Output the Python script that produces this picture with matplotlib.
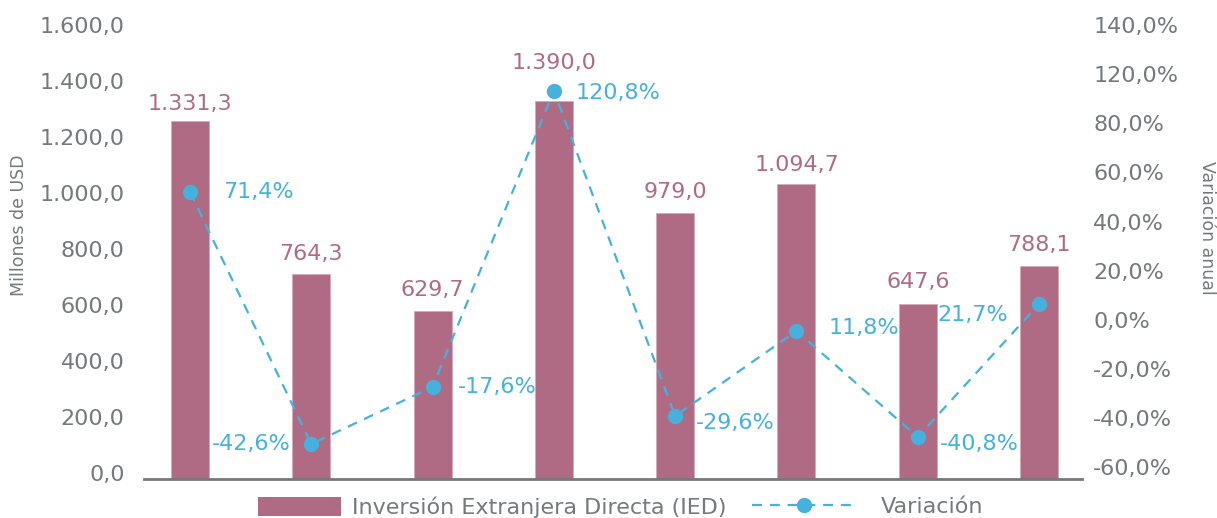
import matplotlib
matplotlib.use("Agg")
import matplotlib.pyplot as plt
import matplotlib.transforms as mtransforms
from matplotlib.patches import Patch
from matplotlib.lines import Line2D
import numpy as np

plt.rcParams['font.family'] = ['DejaVu Sans']

# Data (bar heights and point heights as drawn)
ied_drawn = [1279, 732, 600, 1350, 949, 1052, 624, 761]
ied_labels = ["1.331,3", "764,3", "629,7", "1.390,0", "979,0", "1.094,7", "647,6", "788,1"]
var_drawn = [52.0, -50.6, -27.4, 93.2, -39.2, -4.6, -47.8, 6.4]
var_labels = ["71,4%", "-42,6%", "-17,6%", "120,8%", "-29,6%", "11,8%", "-40,8%", "21,7%"]

left_ticks = [0, 200, 400, 600, 800, 1000, 1200, 1400, 1600]
left_ticklabels = ["0,0", "200,0", "400,0", "600,0", "800,0", "1.000,0", "1.200,0", "1.400,0", "1.600,0"]
right_ticks = [-60, -40, -20, 0, 20, 40, 60, 80, 100, 120]
right_ticklabels = ["-60,0%", "-40,0%", "-20,0%", "0,0%", "20,0%", "40,0%", "60,0%", "80,0%", "120,0%", "140,0%"]

# label placement
bar_label_gap = [17, 20, 21, 38, 21, 19, 22, 21]
var_offsets = [(33, 0, 'left'), (-21, 0, 'right'), (25, 0, 'left'), (22, -2, 'left'),
               (21, -7, 'left'), (32, 3, 'left'), (22, -7, 'left'), (-31, -11, 'right')]

bar_color = '#b06b84'
line_color = '#45b1dc'
gray = '#75797c'
fs = 16

W, H = 1217, 518
fig = plt.figure(figsize=(W / 100, H / 100), dpi=100)
ax = fig.add_axes([144 / W, (H - 479) / H, (1082 - 144) / W, (479 - 20) / H])

x = np.arange(len(ied_drawn))
ax.bar(x, ied_drawn, width=0.313, color=bar_color, edgecolor='#d8aabb', linewidth=0.6, zorder=2)
ax.set_xlim(-0.379, 7.354)
ax.set_ylim(0, (479 - 20) / 0.28)
ax.set_yticks(left_ticks)
ax.set_yticklabels(left_ticklabels)
ax.set_xticks([])
ax.tick_params(axis='y', length=0, pad=14, labelsize=fs, labelcolor=gray)
for s in ['top', 'right', 'left']:
    ax.spines[s].set_visible(False)
ax.spines['bottom'].set_color(gray)
ax.spines['bottom'].set_linewidth(2)
ax.spines['bottom'].set_zorder(4)

# left tick labels sit a bit above their tick
shift = mtransforms.ScaledTranslation(0, 6 / 100, fig.dpi_scale_trans)
for lab in ax.get_yticklabels():
    lab.set_transform(lab.get_transform() + shift)

for xi, h, t, g in zip(x, ied_drawn, ied_labels, bar_label_gap):
    ax.annotate(t, (xi, h), xytext=(0, g), textcoords='offset pixels',
                ha='center', va='center', fontsize=fs, color=bar_color)

ax2 = ax.twinx()
ax2.set_ylim(-60 - 12 / 49.1 * 20, -60 + 447 / 49.1 * 20)
ax2.plot(x, var_drawn, color=line_color, linewidth=1.6, linestyle=(0, (4.5, 3.5)),
         marker='o', markersize=10, zorder=3)
ax2.set_yticks(right_ticks)
ax2.set_yticklabels(right_ticklabels)
ax2.tick_params(axis='y', length=0, pad=8, labelsize=fs, labelcolor=gray)
for s in ['top', 'right', 'left', 'bottom']:
    ax2.spines[s].set_visible(False)

for xi, v, t, (dx, dy, ha) in zip(x, var_drawn, var_labels, var_offsets):
    ax2.annotate(t, (xi, v), xytext=(dx, dy), textcoords='offset pixels',
                 ha=ha, va='center', fontsize=fs, color=line_color)

fig.text(19 / W, 1 - 225 / H, "Millones de USD", rotation=90, ha='center', va='center',
         fontsize=12.5, color=gray)
fig.text(1207 / W, 1 - 228 / H, "Variación anual", rotation=270, ha='center', va='center',
         fontsize=12.5, color=gray)

# legend: two parts so each handle gets its own length
em = fs * 100 / 72
fig.legend([Patch(facecolor=bar_color, edgecolor='none')],
           ["Inversión Extranjera Directa (IED)"],
           loc='center left', bbox_to_anchor=(258 / W, 1 - 507 / H), frameon=False,
           fontsize=fs, labelcolor=gray, handlelength=83 / em, handleheight=0.95,
           handletextpad=11 / em, borderpad=0, borderaxespad=0)
fig.legend([Line2D([0], [0], color=line_color, linewidth=1.6, linestyle=(0, (4.5, 3.5)),
                   marker='o', markersize=10)],
           ["Variación"],
           loc='center left', bbox_to_anchor=(752 / W, 1 - 507 / H), frameon=False,
           fontsize=fs, labelcolor=gray, handlelength=103 / em,
           handletextpad=26 / em, borderpad=0, borderaxespad=0)

fig.savefig("out.png", dpi=100)
